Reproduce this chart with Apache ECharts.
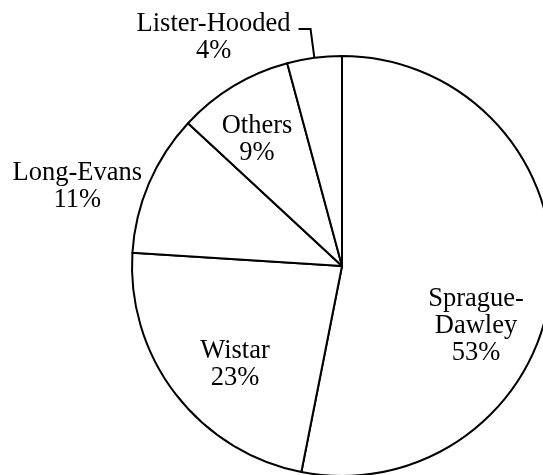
<!DOCTYPE html>
<html>
<head>
<meta charset="utf-8">
<script src="https://cdn.jsdelivr.net/npm/echarts@6/dist/echarts.min.js"></script>
<style>html,body{margin:0;padding:0;background:#fff;}#c{width:543px;height:475px;}</style>
</head>
<body>
<div id="c"></div>
<script>
var categories = ['Sprague-Dawley', 'Wistar', 'Long-Evans', 'Others', 'Lister-Hooded'];
var values = [53.1, 22.9, 10.9, 8.9, 4.2];

var chart = echarts.init(document.getElementById('c'), null, {renderer: 'canvas'});
var font = 'Liberation Serif, Times New Roman, serif';
var insidePos = {0: [476, 326], 1: [235, 365], 3: [257, 140]};
var outsideShiftY = {2: 3, 4: 8};

var data = categories.map(function (name, i) {
  var item = {name: name, value: values[i]};
  if (i === 2) {
    item.label = {position: 'outside', distanceToLabelLine: 7};
    item.labelLine = {show: false, length: 0, length2: 0};
  } else if (i === 4) {
    item.label = {position: 'outside', distanceToLabelLine: 8};
    item.labelLine = {show: true, length: 29, length2: 12, lineStyle: {color: '#000', width: 2}};
  } else {
    item.label = {position: 'inside'};
    item.labelLine = {show: false};
  }
  return item;
});

chart.setOption({
  backgroundColor: '#fff',
  animation: false,
  series: [{
    type: 'pie',
    center: [342, 266],
    radius: 210,
    startAngle: 90,
    clockwise: true,
    avoidLabelOverlap: false,
    percentPrecision: 0,
    itemStyle: {color: '#fff', borderColor: '#000', borderWidth: 2},
    label: {
      color: '#000',
      fontFamily: font,
      fontSize: 26.5,
      lineHeight: 27,
      align: 'center',
      formatter: function (p) {
        return p.name.replace('Sprague-', 'Sprague-\n') + '\n' + p.percent + '%';
      }
    },
    emphasis: {disabled: true},
    labelLayout: function (p) {
      var pos = insidePos[p.dataIndex];
      if (pos) {
        return {x: pos[0], y: pos[1], align: 'center', verticalAlign: 'middle'};
      }
      var r = p.labelRect;
      var out = {
        x: r.x + r.width / 2,
        y: r.y + r.height / 2 + (outsideShiftY[p.dataIndex] || 0),
        align: 'center',
        verticalAlign: 'middle'
      };
      if (p.labelLinePoints) out.labelLinePoints = p.labelLinePoints;
      return out;
    },
    data: data
  }]
});
</script>
</body>
</html>
